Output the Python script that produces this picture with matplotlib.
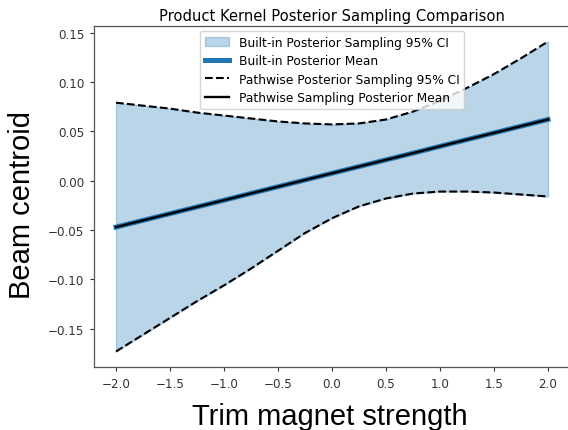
import numpy as np
import matplotlib.pyplot as plt

# trim magnet settings where the posterior was evaluated
x = [-2.0, -1.75, -1.5, -1.25, -1.0, -0.75, -0.5, -0.25, 0.0,
     0.25, 0.5, 0.75, 1.0, 1.25, 1.5, 1.75, 2.0]

# built-in posterior: mean and 95% CI bounds
builtin_mean = [-0.0470, -0.0402, -0.0334, -0.0266, -0.0198, -0.0129, -0.0061, 0.0007, 0.0075,
                0.0143, 0.0211, 0.0279, 0.0348, 0.0416, 0.0484, 0.0552, 0.0620]
builtin_lower = [-0.173, -0.156, -0.139, -0.122, -0.106, -0.089, -0.071, -0.053, -0.038,
                 -0.026, -0.018, -0.013, -0.011, -0.011, -0.012, -0.014, -0.016]
builtin_upper = [0.079, 0.076, 0.073, 0.069, 0.066, 0.063, 0.060, 0.058, 0.057,
                 0.058, 0.062, 0.070, 0.081, 0.094, 0.108, 0.124, 0.141]

# pathwise sampling: mean and 95% CI bounds
pathwise_mean = [-0.0470, -0.0402, -0.0334, -0.0266, -0.0198, -0.0129, -0.0061, 0.0007, 0.0075,
                 0.0143, 0.0211, 0.0279, 0.0348, 0.0416, 0.0484, 0.0552, 0.0620]
pathwise_lower = [-0.173, -0.156, -0.139, -0.122, -0.106, -0.089, -0.071, -0.053, -0.038,
                  -0.026, -0.018, -0.013, -0.011, -0.011, -0.012, -0.014, -0.016]
pathwise_upper = [0.079, 0.076, 0.073, 0.069, 0.066, 0.063, 0.060, 0.058, 0.057,
                  0.058, 0.062, 0.070, 0.081, 0.094, 0.108, 0.124, 0.141]

fig = plt.figure(figsize=(5.68, 4.31), dpi=100)
ax = fig.add_axes([0.1662, 0.1462, 0.8366, 0.7912])

ax.fill_between(x, builtin_lower, builtin_upper, alpha=0.3, color='C0',
                label='Built-in Posterior Sampling 95% CI')
ax.plot(x, builtin_mean, color='C0', lw=3.6, label='Built-in Posterior Mean')
ax.plot(x, pathwise_lower, 'k--', lw=1.5, label='Pathwise Posterior Sampling 95% CI')
ax.plot(x, pathwise_upper, 'k--', lw=1.5)
ax.plot(x, pathwise_mean, 'k-', lw=1.7, label='Pathwise Sampling Posterior Mean')

ax.set_title('Product Kernel Posterior Sampling Comparison', fontsize=10.6, pad=4)
ax.tick_params(labelsize=8.6, length=3.2, width=0.8, colors='#333333', pad=4)
for s in ax.spines.values():
    s.set_linewidth(0.9)
    s.set_color('#555555')
ax.legend(loc='upper center', fontsize=8.8, handlelength=2.0,
          borderaxespad=0.4, labelspacing=0.45)

# big axis labels
fig.text(0.581, 0.014, 'Trim magnet strength', fontsize=21,
         family='Liberation Sans', ha='center', va='baseline')
fig.text(0.039, 0.524, 'Beam centroid', fontsize=21, rotation=90,
         family='Liberation Sans', ha='center', va='center')

fig.savefig('out.png', dpi=100)
